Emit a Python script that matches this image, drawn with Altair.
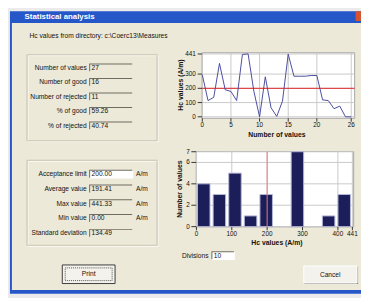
import altair as alt
import pandas as pd

# ---------------- data ----------------
sample_index = list(range(27))
hc_values = [295, 114, 137, 375, 190, 178, 114, 438, 441.33, 180, 0, 281, 64, 3, 110, 440,
             285, 285, 285, 290, 290, 119, 114, 57, 75, 0, 0]
acceptance_limit = 200
hist_max = 441.33
hist_counts = [4, 3, 5, 1, 3, 0, 7, 0, 1, 3]

line_x_ticks = [0, 5, 10, 15, 20, 26]
line_y_ticks = [0, 100, 200, 300, 441]
hist_x_ticks = [0, 100, 200, 300, 400, 441]
hist_y_ticks = [0, 2, 4, 6, 7]

summary_labels = ["Number of values", "Number of good", "Number of rejected", "% of good", "% of rejected"]
summary_values = ["27", "16", "11", "59.26", "40.74"]
stats_labels = ["Acceptance limit", "Average value", "Max value", "Min value", "Standard deviation"]
stats_values = ["200.00", "191.41", "441.33", "0.00", "134.49"]
stats_units = ["A/m", "A/m", "A/m", "A/m", ""]

# ---------------- styling / layout ----------------
FONT = "Liberation Sans"
W, H = 361, 290
BEIGE = "#ece9d8"
BLUE = "#2657c9"
GRID = "#c9c9c9"


def px_rect(x0, x1, y0, y1, fill, stroke=None, sw=1, dash=None, opacity=1):
    df = pd.DataFrame({"x0": [x0], "x1": [x1], "y0": [y0], "y1": [y1]})
    kw = dict(fill=fill, fillOpacity=opacity)
    if stroke:
        kw.update(stroke=stroke, strokeWidth=sw)
    if dash:
        kw.update(strokeDash=dash)
    return alt.Chart(df).mark_rect(**kw).encode(
        x=alt.X("x0:Q", scale=None, axis=None), x2="x1:Q",
        y=alt.Y("y0:Q", scale=None, axis=None), y2="y1:Q")


def px_text(items, size=6.8, align="left", bold=False, color="#111", angle=0):
    df = pd.DataFrame(items, columns=["px", "py", "label"])
    kw = dict(font=FONT, fontSize=size, align=align, baseline="middle", color=color)
    if bold:
        kw["fontWeight"] = "bold"
    if angle:
        kw["angle"] = angle
    return alt.Chart(df).mark_text(**kw).encode(
        x=alt.X("px:Q", scale=None, axis=None),
        y=alt.Y("py:Q", scale=None, axis=None),
        text="label:N")


def textbox(x0, x1, yc, face):
    return [px_rect(x0, x1 - 1, yc - 4.5, yc + 3.5, "#6f6d62"),
            px_rect(x0 + 1, x1, yc - 3.5, yc + 4.5, face)]


decor = []
decor.append(px_rect(0, W, 0, H, "#ebebeb"))
decor.append(px_rect(2, W, 0, 289, BLUE))
decor.append(px_rect(4, W, 12, 285, BEIGE))
decor.append(px_rect(355.5, W, 0, 10, "#d4552f"))
decor.append(px_text([(17, 5.5, "Statistical analysis")], size=8, bold=True, color="white"))
decor.append(px_text([(22, 25, "Hc values from directory: c:\\Coerc13\\Measures")]))

# group boxes
for (y0, y1) in [(44, 132), (152, 239)]:
    decor.append(px_rect(19.5, 152.5, y0 + 0.5, y1 + 0.5, BEIGE, stroke="#cdc8b4", opacity=0))
    decor.append(px_rect(20.5, 153.5, y0 + 1.5, y1 + 1.5, BEIGE, stroke="#fbfaf5", opacity=0))
    decor.append(px_rect(19.5, 152.5, y0 + 0.5, y1 + 0.5, BEIGE, stroke="#d2cdb9", opacity=0))

rows1 = [58 + i * 14.8 for i in range(5)]
rows2 = [166.7 + i * 15.1 for i in range(5)]
for yc in rows1:
    decor += textbox(83, 128, yc, BEIGE)
for i, yc in enumerate(rows2):
    decor += textbox(83, 128, yc, "white" if i == 0 else BEIGE)
decor.append(px_text([(80.5, y, t) for y, t in zip(rows1, summary_labels)], align="right"))
decor.append(px_text([(85.5, y, t) for y, t in zip(rows1, summary_values)]))
decor.append(px_text([(80.5, y, t) for y, t in zip(rows2, stats_labels)], align="right"))
decor.append(px_text([(85.5, y, t) for y, t in zip(rows2, stats_values)]))
decor.append(px_text([(131, y, t) for y, t in zip(rows2, stats_units) if t]))

# buttons
decor.append(px_rect(55.5, 109.5, 259.5, 278.5, "#f3f2ec", stroke="#3a3a3a"))
decor.append(px_rect(58.5, 106.5, 262.5, 275.5, "#f3f2ec", stroke="#555", dash=[1, 1], opacity=0))
decor.append(px_text([(82.5, 269, "Print")], align="center"))
decor.append(px_rect(303, 358, 261, 279, "#7a7a7a"))
decor.append(px_rect(302.5, 357, 260.5, 278, "#f3f2ec", stroke="#ffffff"))
decor.append(px_text([(329.5, 269.5, "Cancel")], align="center"))

# divisions
decor.append(px_text([(205, 250, "Divisions")], align="right"))
decor += textbox(208, 232, 250, "white")
decor.append(px_text([(210.5, 250, "10")]))

# plot frames (white plot areas)
decor.append(px_rect(198.5, 354.5, 42.5, 109.5, "white", stroke="#a4a4a4"))
decor.append(px_rect(192.5, 353.5, 143.5, 220.5, "white", stroke="#a4a4a4"))

# axis titles
decor.append(px_text([(275, 126.5, "Number of values")], size=7, bold=True, align="center"))
decor.append(px_text([(177, 75.5, "Hc values (A/m)")], size=7, bold=True, align="center", angle=270))
decor.append(px_text([(275, 237.5, "Hc values (A/m)")], size=7, bold=True, align="center"))
decor.append(px_text([(176, 182, "Number of values")], size=7, bold=True, align="center", angle=270))

# ---------------- line chart ----------------
xs = alt.Scale(domain=[0, 26], range=[198.7, 351], nice=False, zero=False)
ys = alt.Scale(domain=[0, 441.33], range=[108, 43.7], nice=False, zero=False)

lx = pd.DataFrame({"t": line_x_ticks, "lab": [str(v) for v in line_x_ticks]})
ly = pd.DataFrame({"t": line_y_ticks, "lab": [str(v) for v in line_y_ticks]})
X = alt.X("t:Q", scale=xs, axis=None)
Y = alt.Y("t:Q", scale=ys, axis=None)

line_group = alt.layer(
    alt.Chart(lx).mark_rule(color=GRID).encode(x=X, y=alt.value(42.5), y2=alt.value(109.5)),
    alt.Chart(ly).mark_rule(color=GRID).encode(y=Y, x=alt.value(198.5), x2=alt.value(354.5)),
    alt.Chart(lx).mark_rule(color="#333").encode(x=X, y=alt.value(109.5), y2=alt.value(113)),
    alt.Chart(ly).mark_rule(color="#333").encode(y=Y, x=alt.value(194), x2=alt.value(198.5)),
    alt.Chart(lx).mark_text(font=FONT, fontSize=6.5, baseline="middle", color="#111").encode(
        x=X, y=alt.value(116), text="lab:N"),
    alt.Chart(ly).mark_text(font=FONT, fontSize=6.5, baseline="middle", align="right", color="#111").encode(
        y=Y, x=alt.value(192), text="lab:N"),
    alt.Chart(pd.DataFrame({"v": [acceptance_limit]})).mark_rule(color="#e3262a", strokeWidth=1).encode(
        y=alt.Y("v:Q", scale=ys, axis=None), x=alt.value(198.5), x2=alt.value(354.5)),
    alt.Chart(pd.DataFrame({"i": sample_index, "hc": hc_values})).mark_line(
        color="#4a4c9e", strokeWidth=1).encode(
        x=alt.X("i:Q", scale=xs, axis=None), y=alt.Y("hc:Q", scale=ys, axis=None)),
)

# ---------------- histogram ----------------
hxs = alt.Scale(domain=[0, hist_max], range=[192.7, 352.3], nice=False, zero=False)
hys = alt.Scale(domain=[0, 7], range=[220.3, 143.7], nice=False, zero=False)
bw = hist_max / len(hist_counts)
bars = pd.DataFrame({
    "lo": [i * bw + 0.07 * bw for i in range(len(hist_counts))],
    "hi": [(i + 1) * bw - 0.13 * bw for i in range(len(hist_counts))],
    "count": hist_counts,
    "base": [0] * len(hist_counts),
})
bars = bars[bars["count"] > 0]
hx = pd.DataFrame({"t": hist_x_ticks, "lab": [str(v) for v in hist_x_ticks]})
hy = pd.DataFrame({"t": hist_y_ticks, "lab": [str(v) for v in hist_y_ticks]})
HX = alt.X("t:Q", scale=hxs, axis=None)
HY = alt.Y("t:Q", scale=hys, axis=None)

hist_group = alt.layer(
    alt.Chart(hx).mark_rule(color=GRID).encode(x=HX, y=alt.value(143.5), y2=alt.value(220.5)),
    alt.Chart(hy).mark_rule(color=GRID).encode(y=HY, x=alt.value(192.5), x2=alt.value(353.5)),
    alt.Chart(hx).mark_rule(color="#333").encode(x=HX, y=alt.value(220.5), y2=alt.value(224)),
    alt.Chart(hy).mark_rule(color="#333").encode(y=HY, x=alt.value(187.5), x2=alt.value(192.5)),
    alt.Chart(hx).mark_text(font=FONT, fontSize=6.5, baseline="middle", color="#111").encode(
        x=HX, y=alt.value(227.5), text="lab:N"),
    alt.Chart(hy).mark_text(font=FONT, fontSize=6.5, baseline="middle", align="right", color="#111").encode(
        y=HY, x=alt.value(186), text="lab:N"),
    alt.Chart(bars).mark_rect(fill="#1c1e5a", stroke="#b4b6d6", strokeWidth=1).encode(
        x=alt.X("lo:Q", scale=hxs, axis=None), x2="hi:Q",
        y=alt.Y("count:Q", scale=hys, axis=None), y2="base:Q"),
    alt.Chart(pd.DataFrame({"v": [acceptance_limit]})).mark_rule(color="#e87c80", strokeWidth=1).encode(
        x=alt.X("v:Q", scale=hxs, axis=None), y=alt.value(143.5), y2=alt.value(220.5)),
)

chart = alt.layer(*decor, line_group, hist_group).resolve_scale(
    x="independent", y="independent"
).properties(
    width=W, height=H, padding=0, autosize=alt.AutoSizeParams(type="none"), background="#ebebeb"
).configure_view(stroke=None)

chart.save("out.html", embed_options={"renderer": "svg", "actions": False})
